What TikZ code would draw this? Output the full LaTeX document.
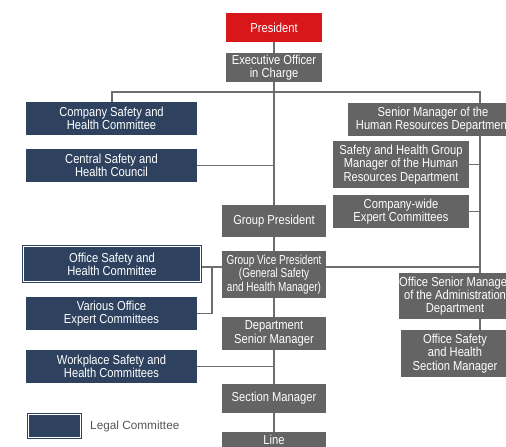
\documentclass[tikz,border=0pt]{standalone}
\usepackage{fontspec}
\setmainfont{Liberation Sans}[FakeStretch=0.86]
\newfontfamily\narrowfont{Liberation Sans}[FakeStretch=0.77]
\newfontfamily\legfont{Liberation Sans}
\usetikzlibrary{backgrounds}
\definecolor{pred}{HTML}{D8171B}
\definecolor{pgray}{HTML}{646464}
\definecolor{pnavy}{HTML}{2E4260}
\definecolor{plink}{HTML}{6E6E6E}
\definecolor{ptext}{HTML}{555555}
\begin{document}
\begin{tikzpicture}[x=1pt,y=-1pt,
  box/.style={inner sep=0pt,align=center,text=white,font=\fontsize{13}{13.3}\selectfont},
  graybox/.style={box,fill=pgray},
  redbox/.style={box,fill=pred},
  navybox/.style={box,fill=pnavy},
  legalbox/.style={box,fill=pnavy,draw=pnavy,double=white,double distance=0.9pt,line width=1.2pt},
  link/.style={draw=plink,line width=1.5pt}]
\useasboundingbox (0,0) rectangle (506,447);
\clip (0,0) rectangle (506,447);
% nodes
\node[redbox,minimum width=96,minimum height=29] (pres) at (274,27.5) {President};
\node[graybox,minimum width=96,minimum height=29] (exec) at (274,67.5) {Executive Officer\\in Charge};
\node[navybox,minimum width=171,minimum height=33] (csh) at (111.5,118.5) {Company Safety and\\Health Committee};
\node[navybox,minimum width=171,minimum height=33] (cshc) at (111.5,165.5) {Central Safety and\\Health Council};
\node[graybox,minimum width=170,minimum height=33] (smhr) at (433,119.5) {Senior Manager of the\\Human Resources Department};
\node[graybox,minimum width=136,minimum height=47] (shgm) at (401,164.5) {Safety and Health Group\\Manager of the Human\\Resources Department};
\node[graybox,minimum width=136,minimum height=33] (cwec) at (401,211.5) {Company-wide\\Expert Committees};
\node[graybox,minimum width=104,minimum height=32] (gp) at (274,221) {Group President};
\node[legalbox,minimum width=176.6,minimum height=34.6] (osh) at (112,264) {Office Safety and\\Health Committee};
\node[graybox,minimum width=104,minimum height=47,font=\narrowfont\fontsize{13}{13.3}\selectfont] (gvp) at (274,274.5) {Group Vice President\\(General Safety\\and Health Manager)};
\node[graybox,minimum width=108,minimum height=46] (osm) at (455,296) {Office Senior Manager\\of the Administration\\Department};
\node[navybox,minimum width=171,minimum height=33] (voec) at (111.5,313.5) {Various Office\\Expert Committees};
\node[graybox,minimum width=104,minimum height=33] (dsm) at (274,333.5) {Department\\Senior Manager};
\node[graybox,minimum width=108,minimum height=47] (ossm) at (455,353.5) {Office Safety\\and Health\\Section Manager};
\node[navybox,minimum width=171,minimum height=33] (wshc) at (111.5,366.5) {Workplace Safety and\\Health Committees};
\node[graybox,minimum width=104,minimum height=29] (secm) at (274,398.5) {Section Manager};
\node[graybox,minimum width=104,minimum height=16] (line) at (274,440) {Line};
\node[legalbox,minimum width=51.6,minimum height=22.6] (leg) at (54.5,426) {};
\node[anchor=west,inner sep=0pt,text=ptext,font=\legfont\fontsize{11.8}{13}\selectfont] (legt) at (90,426) {Legal Committee};
% connectors
\begin{scope}[on background layer]
\coordinate (bl) at (112,92);
\coordinate (br) at (480,92);
\coordinate (gl) at (222,267);
\coordinate (gr) at (326,267);
\coordinate (vx) at (212,267);
\draw[link] (pres) -- (exec);
\draw[link] (exec) -- (gp);
\draw[link] (csh.north -| bl) -- (bl) -- (br) -- (br |- osm.north);
\draw[link] (cshc.east) -- (cshc.east -| exec.south);
\draw[link] (shgm.east) -- (shgm.east -| br);
\draw[link] (cwec.east) -- (cwec.east -| br);
\draw[link] (gp) -- (gvp);
\draw[link] (osh.east |- gl) -- (gl);
\draw[link] (gr) -- (gr -| br);
\draw[link] (vx) |- (voec.east);
\draw[link] (gvp) -- (dsm);
\draw[link] (dsm) -- (secm);
\draw[link] (secm) -- (line);
\draw[link] (wshc.east) -- (wshc.east -| dsm.south);
\draw[link] (br |- osm.south) -- (br |- ossm.north);
\end{scope}
\end{tikzpicture}
\end{document}
